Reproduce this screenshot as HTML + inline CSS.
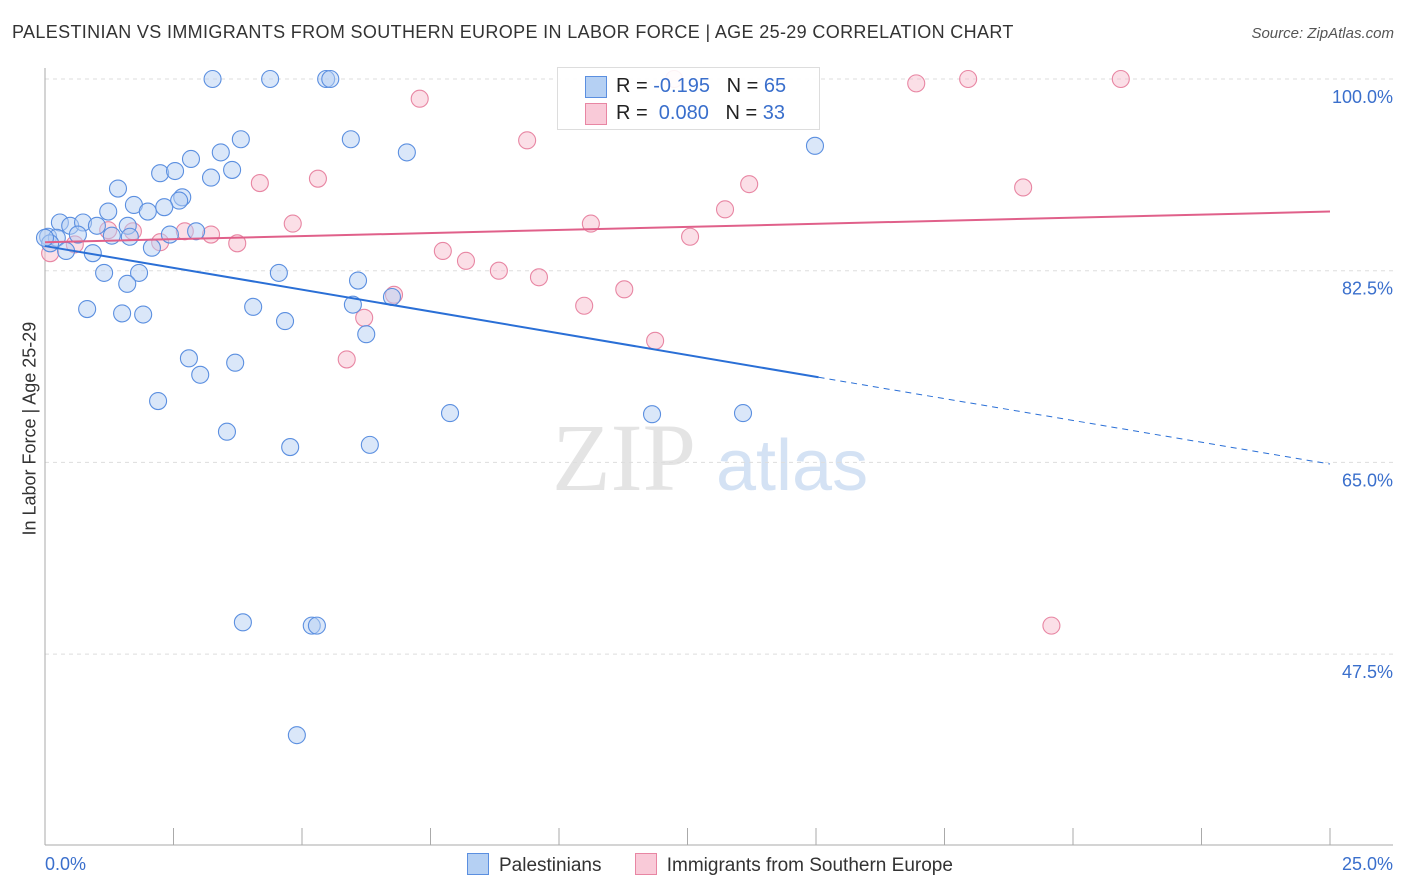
<!DOCTYPE html>
<html><head><meta charset="utf-8"><style>
body{margin:0;background:#fff;font-family:"Liberation Sans",sans-serif}
#wrap{position:relative;width:1406px;height:892px}
.t{position:absolute;white-space:nowrap}
</style></head><body>
<div id="wrap">
<div class="t" style="left:12px;top:22px;font-size:18px;color:#333;letter-spacing:0.35px">PALESTINIAN VS IMMIGRANTS FROM SOUTHERN EUROPE IN LABOR FORCE | AGE 25-29 CORRELATION CHART</div>
<div class="t" style="right:12px;top:25px;font-size:15px;color:#555;font-style:italic">Source: ZipAtlas.com</div>
<div class="t" style="left:-50px;top:445px;font-size:18px;color:#333;transform:rotate(-90deg);width:160px;text-align:center">In Labor Force | Age 25-29</div>
<svg id="svg" width="1406" height="892" style="position:absolute;left:0;top:0"></svg>
</div>
<script>
const yTicks=[100,82.5,65,47.5];
const yTickLabels=["100.0%","82.5%","65.0%","47.5%"];
const xTickLabels=["0.0%","25.0%"];
const blueX=[3.26,4.38,5.47,5.55,3.81,5.95,7.04,14.98,2.84,3.42,2.24,2.53,3.23,3.64,1.42,2.67,2.61,1.23,1.73,2.0,2.32,0.29,0.49,0.74,1.01,1.61,0.06,0.23,0.64,1.3,1.65,2.43,2.94,0.93,2.08,0.41,1.15,1.83,1.6,4.55,6.09,0.82,1.5,1.91,4.05,5.99,6.75,4.67,6.25,2.8,3.7,3.02,2.2,7.88,11.81,13.58,3.54,4.77,6.32,3.85,5.19,5.29,4.9,0.1,0.0];
const blueY=[100,100,100,100,94.5,94.5,93.3,93.9,92.7,93.3,91.4,91.6,91.0,91.7,90.0,89.2,88.9,87.9,88.5,87.9,88.3,86.9,86.6,86.9,86.6,86.6,85.6,85.5,85.8,85.7,85.6,85.8,86.1,84.1,84.6,84.3,82.3,82.3,81.3,82.3,81.6,79.0,78.6,78.5,79.2,79.4,80.1,77.9,76.7,74.5,74.1,73.0,70.6,69.5,69.4,69.5,67.8,66.4,66.6,50.4,50.1,50.1,40.1,85.0,85.5];
const pinkX=[7.29,9.38,4.18,5.31,13.7,13.23,4.82,1.23,1.71,2.72,3.23,2.24,3.74,10.62,12.55,7.74,8.19,8.83,9.61,10.49,11.27,6.79,6.21,5.87,11.87,16.95,17.96,20.93,19.03,19.58,12.24,0.1,0.58];
const pinkY=[98.2,94.4,90.5,90.9,90.4,88.1,86.8,86.2,86.1,86.1,85.8,85.1,85.0,86.8,85.6,84.3,83.4,82.5,81.9,79.3,80.8,80.3,78.2,74.4,76.1,99.6,100,100,90.1,50.1,100,84.1,84.9];
const blueTrend=[84.75,64.85];
const pinkTrend=[85.1,87.9];
const X0=45,X1=1330,Y100=79,PER=191.7/17.5;
const xs=v=>X0+v/25*(X1-X0);
const ys=v=>Y100+(100-v)*PER;
const svg=document.getElementById('svg');
const NS='http://www.w3.org/2000/svg';
function mk(tag,attrs,parent){const e=document.createElementNS(NS,tag);for(const k in attrs)e.setAttribute(k,attrs[k]);(parent||svg).appendChild(e);return e;}
let wm=mk('text',{x:552,y:490,'font-size':96,fill:'#e4e4e4','font-family':'Liberation Serif, serif'});wm.textContent='ZIP';


let wm2=mk('text',{x:716,y:490,'font-size':72,fill:'#d4e2f4','font-family':'Liberation Sans, sans-serif'});wm2.textContent='atlas';


yTicks.forEach((v,i)=>{
 let g=mk('line',{x1:X0,x2:1393,y1:ys(v),y2:ys(v),stroke:'#ddd','stroke-dasharray':'4,4'});
 
 
 let t=mk('text',{x:1393,y:ys(v)+24,'text-anchor':'end','font-size':18,fill:'#3a6fcc'});t.textContent=yTickLabels[i];
 
 
});
let ax=mk('line',{x1:X0,x2:X0,y1:68,y2:845,stroke:'#aaa'});


let bx=mk('line',{x1:X0,x2:1393,y1:845,y2:845,stroke:'#aaa'});


for(let i=0;i<=10;i++){let x=X0+i*(X1-X0)/10;let tk=mk('line',{x1:x,x2:x,y1:828,y2:845,stroke:'#aaa'});
 
 }
let xl=mk('text',{x:45,y:870,'font-size':18,fill:'#3a6fcc'});xl.textContent=xTickLabels[0];


let xr=mk('text',{x:1393,y:870,'font-size':18,fill:'#3a6fcc','text-anchor':'end'});xr.textContent=xTickLabels[1];


function dots(X,Y,fill,stroke,name){X.forEach((x,i)=>{let c=mk('circle',{cx:xs(x),cy:ys(Y[i]),r:8.5,fill:fill,'fill-opacity':0.5,stroke:stroke,'stroke-width':1.1});
 
 });}
dots(pinkX,pinkY,'#f7bfd0','#e886a3','pink-point');
dots(blueX,blueY,'#b5d0f3','#5b8fe0','blue-point');
const bAt=v=>blueTrend[0]+(blueTrend[1]-blueTrend[0])*v/25;
let bl=mk('line',{x1:xs(0),y1:ys(bAt(0)),x2:xs(15.05),y2:ys(bAt(15.05)),stroke:'#2a6fd6','stroke-width':2});


let bd=mk('line',{x1:xs(15.05),y1:ys(bAt(15.05)),x2:xs(25),y2:ys(bAt(25)),stroke:'#2a6fd6','stroke-width':1,'stroke-dasharray':'6,5'});


let pl=mk('line',{x1:xs(0),y1:ys(pinkTrend[0]),x2:xs(25),y2:ys(pinkTrend[1]),stroke:'#e0608a','stroke-width':2});


</script>
<div class="t" style="left:557px;top:67px;width:261px;height:61px;border:1px solid #ddd;background:rgba(255,255,255,0.9);font-size:20px;color:#222">
 <div style="position:absolute;left:27px;top:8px;width:20px;height:20px;background:#b5d0f3;border:1px solid #5b8fe0"></div>
 <div style="position:absolute;left:58px;top:7px">R = <span style="color:#3a6fcc">-0.195</span>&nbsp;&nbsp;&nbsp;N = <span style="color:#3a6fcc">65</span></div>
 <div style="position:absolute;left:27px;top:35px;width:20px;height:20px;background:#f9cad8;border:1px solid #e886a3"></div>
 <div style="position:absolute;left:58px;top:34px">R = &nbsp;<span style="color:#3a6fcc">0.080</span>&nbsp;&nbsp;&nbsp;N = <span style="color:#3a6fcc">33</span></div>
</div>
<div class="t" style="left:467px;top:853px;font-size:19px;color:#333">
 <span><span style="display:inline-block;width:20px;height:20px;background:#b5d0f3;border:1px solid #5b8fe0;vertical-align:-4px;margin-right:10px"></span>Palestinians</span>
 <span style="margin-left:28px"><span style="display:inline-block;width:20px;height:20px;background:#f9cad8;border:1px solid #e886a3;vertical-align:-4px;margin-right:10px"></span>Immigrants from Southern Europe</span>
</div>
</body></html>
